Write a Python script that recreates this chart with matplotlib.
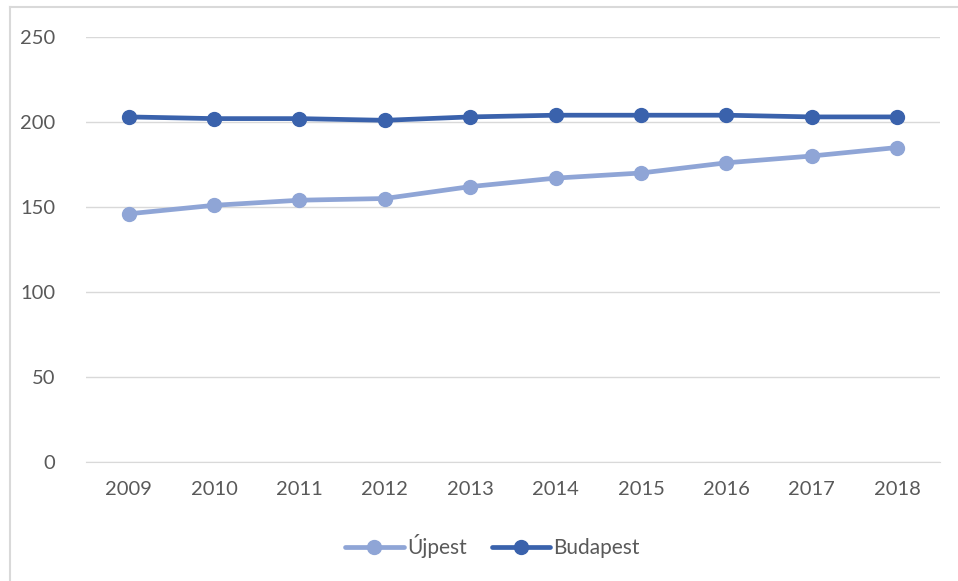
import matplotlib.pyplot as plt
from matplotlib.lines import Line2D

years = ["2009", "2010", "2011", "2012", "2013", "2014", "2015", "2016", "2017", "2018"]
ujpest = [146, 151, 154, 155, 162, 167, 170, 176, 180, 185]
budapest = [203, 202, 202, 201, 203, 204, 204, 204, 203, 203]

plt.rcParams["font.family"] = ["Lato", "DejaVu Sans"]

fig = plt.figure(figsize=(9.58, 5.81), dpi=100)
ax = fig.add_axes([0.0898, 0.2048, 0.8912, 0.7315])

x = range(len(years))
ax.plot(x, ujpest, color="#8FA5D6", lw=3.4, marker="o", ms=10, label="Újpest", solid_capstyle="round")
ax.plot(x, budapest, color="#3A62AC", lw=3.4, marker="o", ms=10, label="Budapest", solid_capstyle="round")

ax.set_xlim(-0.5, len(years) - 0.5)
ax.set_ylim(0, 250)
ax.set_yticks(range(0, 251, 50))
ax.set_xticks(list(x))
ax.set_xticklabels(years)
ax.yaxis.grid(True, color="#D9D9D9", lw=1)
ax.set_axisbelow(True)
for s in ["top", "right", "left"]:
    ax.spines[s].set_visible(False)
ax.spines["bottom"].set_color("#D9D9D9")
ax.tick_params(length=0, labelsize=14.5, labelcolor="#595959")
ax.tick_params(axis="x", pad=14)
ax.tick_params(axis="y", pad=22)

fig.legend(loc="center", bbox_to_anchor=(0.514, 0.06), ncol=2, frameon=False,
           fontsize=15, labelcolor="#595959", handlelength=2.8, handletextpad=0.15,
           columnspacing=1.2)

# chart frame (only top and left edges visible in the crop)
fig.add_artist(Line2D([9.5 / 958, 9.5 / 958], [0, 1 - 7 / 581], color="#D9D9D9", lw=1.5))
fig.add_artist(Line2D([9.5 / 958, 1], [1 - 7 / 581, 1 - 7 / 581], color="#D9D9D9", lw=1.5))

fig.savefig("out.png", dpi=100)
